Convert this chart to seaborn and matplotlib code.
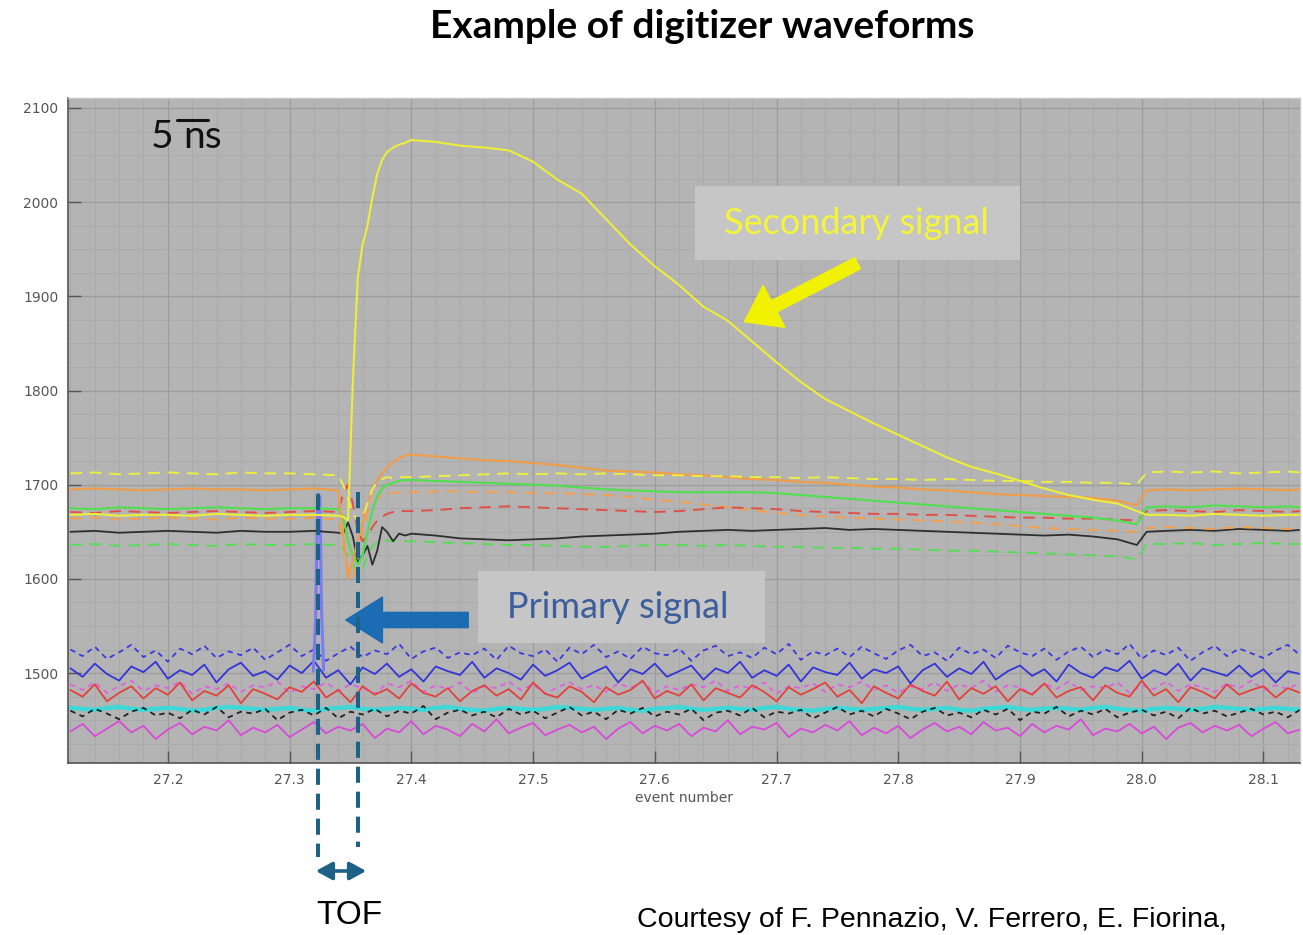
import numpy as np
import pandas as pd
import matplotlib
matplotlib.use("Agg")
import matplotlib.pyplot as plt
import seaborn as sns
from matplotlib.lines import Line2D
from matplotlib.patches import Rectangle, FancyArrowPatch
from matplotlib.ticker import MultipleLocator

# ---------------- data ----------------
# sample times of the baseline/secondary-signal channels (event number)
x_upper = [27.12, 27.14, 27.16, 27.18, 27.20, 27.22, 27.24, 27.26, 27.28, 27.30, 27.32, 27.34,
           27.344, 27.348, 27.352, 27.356, 27.360, 27.364, 27.368, 27.372, 27.376, 27.380, 27.385, 27.390, 27.395,
           27.40, 27.42, 27.44, 27.46, 27.48, 27.50, 27.52, 27.54, 27.56, 27.58, 27.60, 27.62, 27.64, 27.66, 27.68,
           27.70, 27.72, 27.74, 27.76, 27.78, 27.80, 27.82, 27.84, 27.86, 27.88, 27.90, 27.92, 27.94, 27.96, 27.98,
           27.996, 28.004,
           28.02, 28.04, 28.06, 28.08, 28.10, 28.12, 28.13]

yellow_solid = [1668, 1669, 1667, 1668, 1668, 1667, 1669, 1668, 1667, 1668, 1668, 1667,
                1666, 1662, 1810, 1920, 1955, 1975, 2005, 2030, 2045, 2053, 2058, 2061, 2063,
                2066, 2064, 2060, 2058, 2055, 2043, 2024, 2009, 1982, 1955, 1932, 1912, 1889, 1874, 1852,
                1830, 1809, 1791, 1778, 1765, 1753, 1741, 1729, 1719, 1712, 1704, 1696, 1689, 1684, 1680,
                1672, 1668,
                1668, 1667, 1669, 1668, 1667, 1668, 1668]
yellow_dashed = [1712, 1713, 1711, 1712, 1713, 1712, 1711, 1713, 1712, 1712, 1711, 1710,
                 1700, 1685, 1670, 1660, 1665, 1680, 1695, 1703, 1706, 1708, 1707, 1708, 1708,
                 1708, 1709, 1710, 1711, 1712, 1711, 1712, 1711, 1712, 1711, 1710, 1710, 1709, 1709, 1708,
                 1708, 1707, 1708, 1707, 1706, 1706, 1705, 1706, 1705, 1704, 1704, 1703, 1703, 1702, 1702,
                 1700, 1713,
                 1714, 1713, 1714, 1712, 1713, 1714, 1713]
orange_solid = [1695, 1696, 1695, 1694, 1695, 1696, 1695, 1695, 1694, 1695, 1696, 1694,
                1650, 1600, 1620, 1640, 1660, 1680, 1695, 1705, 1712, 1718, 1724, 1728, 1731,
                1732, 1730, 1728, 1726, 1725, 1723, 1721, 1718, 1715, 1714, 1713, 1711, 1710, 1708, 1706,
                1705, 1703, 1702, 1700, 1698, 1697, 1695, 1694, 1692, 1690, 1689, 1688, 1687, 1686, 1683,
                1678, 1694,
                1695, 1694, 1695, 1696, 1695, 1694, 1695]
green_solid = [1675, 1674, 1676, 1675, 1674, 1675, 1676, 1675, 1674, 1675, 1675, 1674,
               1665, 1640, 1625, 1615, 1625, 1650, 1672, 1688, 1696, 1700, 1702, 1704, 1705,
               1705, 1704, 1703, 1702, 1701, 1700, 1699, 1697, 1695, 1694, 1693, 1692, 1692, 1692, 1692,
               1691, 1689, 1687, 1685, 1683, 1681, 1679, 1677, 1675, 1673, 1671, 1669, 1667, 1665, 1662,
               1658, 1676,
               1677, 1676, 1678, 1677, 1676, 1677, 1676]
red_dashed = [1671, 1670, 1672, 1671, 1670, 1671, 1672, 1671, 1670, 1671, 1672, 1671,
              1690, 1700, 1680, 1650, 1640, 1645, 1655, 1662, 1666, 1669, 1671, 1672, 1672,
              1672, 1673, 1675, 1676, 1677, 1676, 1675, 1674, 1673, 1672, 1671, 1672, 1674, 1676, 1675,
              1674, 1672, 1671, 1670, 1669, 1669, 1668, 1668, 1667, 1666, 1665, 1665, 1664, 1664, 1663,
              1662, 1672,
              1673, 1672, 1671, 1673, 1672, 1671, 1672]
orange_dashed = [1664, 1665, 1663, 1664, 1665, 1664, 1663, 1665, 1664, 1664, 1665, 1663,
                 1640, 1610, 1600, 1620, 1650, 1670, 1680, 1686, 1689, 1690, 1691, 1692, 1692,
                 1692, 1693, 1693, 1692, 1692, 1691, 1691, 1690, 1689, 1687, 1684, 1682, 1679, 1676, 1673,
                 1670, 1668, 1666, 1665, 1664, 1663, 1662, 1661, 1660, 1658, 1656, 1654, 1653, 1652, 1651,
                 1650, 1654,
                 1655, 1654, 1653, 1655, 1654, 1653, 1654]
black_solid = [1650, 1651, 1649, 1650, 1651, 1650, 1649, 1651, 1650, 1650, 1651, 1649,
               1648, 1660, 1645, 1618, 1625, 1635, 1615, 1630, 1655, 1650, 1640, 1648, 1646,
               1648, 1646, 1643, 1642, 1641, 1642, 1643, 1645, 1646, 1647, 1648, 1650, 1651, 1652, 1651,
               1652, 1653, 1654, 1652, 1653, 1652, 1651, 1650, 1649, 1648, 1647, 1646, 1647, 1645, 1642,
               1636, 1650,
               1651, 1652, 1651, 1653, 1652, 1651, 1652]
green_dashed = [1636, 1637, 1635, 1636, 1637, 1636, 1635, 1637, 1636, 1636, 1637, 1636,
                1632, 1625, 1615, 1605, 1610, 1625, 1635, 1639, 1640, 1641, 1640, 1641, 1640,
                1640, 1639, 1638, 1637, 1636, 1636, 1635, 1634, 1634, 1635, 1636, 1636, 1635, 1636, 1635,
                1634, 1634, 1633, 1633, 1632, 1632, 1631, 1630, 1630, 1629, 1628, 1627, 1626, 1625, 1624,
                1621, 1637,
                1637, 1638, 1636, 1637, 1638, 1637, 1637]

# noisy low-level channels, sampled every 0.01 from 27.12
x_start, x_step = 27.12, 0.01
blue_dashed = [1525, 1518, 1528, 1515, 1522, 1530, 1517, 1524, 1512, 1526, 1520, 1529, 1516, 1523, 1519, 1527, 1514,
               1522, 1530, 1518, 1525, 1513, 1521, 1528, 1517, 1524, 1520, 1531, 1515, 1523, 1527, 1516, 1522, 1519,
               1526, 1514, 1529, 1521, 1518, 1525, 1512, 1527, 1520, 1530, 1517, 1523, 1515, 1528, 1521, 1519, 1526,
               1513, 1524, 1529, 1518, 1522, 1516, 1527, 1520, 1531, 1514, 1523, 1519, 1526, 1517, 1528, 1521, 1515,
               1524, 1530, 1518, 1522, 1513, 1527, 1520, 1525, 1516, 1529, 1522, 1518, 1526, 1514, 1523, 1528, 1517,
               1525, 1520, 1531, 1515, 1524, 1519, 1527, 1513, 1522, 1529, 1518, 1526, 1521, 1516, 1524, 1530, 1519]
blue_solid = [1505, 1496, 1510, 1499, 1492, 1507, 1501, 1512, 1494, 1503, 1498, 1509, 1490, 1504, 1511, 1497, 1502,
              1493, 1508, 1500, 1513, 1495, 1503, 1488, 1506, 1499, 1510, 1496, 1504, 1491, 1507, 1502, 1498, 1512,
              1495, 1505, 1500, 1493, 1509, 1497, 1503, 1511, 1494, 1501, 1507, 1490, 1504, 1499, 1510, 1496, 1502,
              1508, 1493, 1505, 1500, 1512, 1495, 1503, 1497, 1509, 1491, 1506, 1501, 1498, 1511, 1494, 1504, 1500,
              1507, 1489, 1503, 1510, 1496, 1505, 1499, 1512, 1493, 1502, 1508, 1497, 1504, 1491, 1509, 1500, 1495,
              1506, 1502, 1513, 1494, 1503, 1498, 1510, 1492, 1505, 1501, 1497, 1508, 1496, 1504, 1490, 1502, 1499]
red_solid = [1482, 1475, 1488, 1470, 1479, 1486, 1473, 1484, 1477, 1490, 1471, 1481, 1476, 1487, 1468, 1483, 1478,
             1472, 1485, 1480, 1491, 1474, 1482, 1469, 1486, 1477, 1483, 1473, 1489, 1479, 1475, 1484, 1470, 1481,
             1487, 1476, 1483, 1472, 1490, 1478, 1474, 1486, 1480, 1469, 1485, 1477, 1482, 1492, 1473, 1481, 1476,
             1488, 1471, 1484, 1479, 1474, 1487, 1480, 1470, 1485, 1477, 1483, 1490, 1475, 1482, 1468, 1486, 1479,
             1473, 1488, 1481, 1476, 1491, 1472, 1484, 1478, 1486, 1470, 1483, 1477, 1489, 1474, 1481, 1485, 1471,
             1487, 1479, 1475, 1492, 1476, 1483, 1469, 1485, 1480, 1473, 1488, 1477, 1482, 1486, 1474, 1484, 1479]
magenta_dashed = [1488, 1482, 1490, 1479, 1486, 1492, 1481, 1487, 1484, 1491, 1478, 1486, 1483, 1489, 1480, 1487, 1485,
                  1491, 1479, 1486, 1483, 1490, 1481, 1488, 1484, 1478, 1489, 1485, 1492, 1480, 1487, 1483, 1490, 1479,
                  1486, 1484, 1491, 1482, 1488, 1478, 1485, 1490, 1483, 1487, 1480, 1489, 1484, 1491, 1479, 1486, 1482,
                  1488, 1485, 1492, 1481, 1487, 1483, 1490, 1478, 1486, 1484, 1489, 1480, 1488, 1485, 1491, 1482, 1487,
                  1479, 1486, 1483, 1490, 1481, 1488, 1484, 1492, 1480, 1487, 1485, 1478, 1489, 1483, 1491, 1482, 1486,
                  1484, 1490, 1479, 1487, 1483, 1491, 1481, 1488, 1485, 1480, 1489, 1484, 1492, 1482, 1487, 1483, 1490]
cyan_solid = [1463, 1462, 1461, 1463, 1464, 1462, 1461, 1462, 1463, 1462, 1460, 1461, 1463, 1464, 1463, 1462, 1461,
              1462, 1463, 1461, 1460, 1462, 1463, 1464, 1462, 1461, 1462, 1463, 1462, 1461, 1463, 1464, 1462, 1461,
              1460, 1462, 1463, 1462, 1461, 1462, 1464, 1463, 1462, 1461, 1462, 1463, 1461, 1460, 1462, 1463, 1464,
              1462, 1461, 1462, 1463, 1462, 1461, 1463, 1464, 1462, 1461, 1460, 1462, 1463, 1462, 1461, 1462, 1463,
              1464, 1462, 1461, 1462, 1463, 1461, 1460, 1462, 1463, 1464, 1462, 1461, 1462, 1463, 1462, 1461, 1463,
              1464, 1462, 1461, 1460, 1462, 1463, 1462, 1461, 1462, 1464, 1463, 1462, 1461, 1462, 1463, 1462, 1461]
black_dashed = [1460, 1454, 1462, 1457, 1451, 1459, 1463, 1455, 1458, 1452, 1461, 1456, 1464, 1453, 1459, 1457, 1462,
                1450, 1458, 1461, 1455, 1463, 1452, 1459, 1456, 1462, 1454, 1460, 1457, 1465, 1451, 1458, 1461, 1455,
                1459, 1453, 1462, 1456, 1460, 1452, 1458, 1464, 1455, 1459, 1451, 1461, 1457, 1463, 1454, 1459, 1456,
                1462, 1450, 1458, 1460, 1455, 1463, 1453, 1459, 1457, 1461, 1452, 1458, 1464, 1456, 1460, 1454, 1462,
                1457, 1451, 1459, 1463, 1455, 1458, 1453, 1461, 1456, 1462, 1450, 1459, 1457, 1464, 1454, 1460, 1456,
                1462, 1453, 1458, 1461, 1455, 1459, 1452, 1463, 1457, 1460, 1454, 1458, 1462, 1456, 1459, 1453, 1461]
magenta_solid = [1438, 1446, 1433, 1441, 1449, 1437, 1444, 1430, 1440, 1447, 1435, 1443, 1439, 1450, 1434, 1442, 1437,
                 1445, 1432, 1440, 1448, 1436, 1443, 1439, 1446, 1431, 1441, 1437, 1449, 1435, 1444, 1440, 1433, 1446,
                 1438, 1451, 1436, 1442, 1447, 1434, 1440, 1445, 1437, 1443, 1430, 1441, 1448, 1436, 1444, 1439, 1446,
                 1433, 1442, 1438, 1450, 1435, 1443, 1440, 1447, 1432, 1441, 1437, 1445, 1439, 1449, 1434, 1442, 1436,
                 1444, 1431, 1440, 1447, 1438, 1443, 1435, 1448, 1439, 1442, 1433, 1446, 1437, 1444, 1440, 1451, 1434,
                 1441, 1438, 1446, 1436, 1443, 1430, 1442, 1447, 1437, 1444, 1439, 1445, 1433, 1441, 1448, 1436, 1440]

# primary (prompt) signal spike
spike_x = [27.3195, 27.3215, 27.3228, 27.3238, 27.3250, 27.3262, 27.3280]
spike_y = [1502, 1560, 1660, 1690, 1686, 1570, 1503]

x_ticks = [27.2, 27.3, 27.4, 27.5, 27.6, 27.7, 27.8, 27.9, 28.0, 28.1]
y_ticks = [1500, 1600, 1700, 1800, 1900, 2000, 2100]

# ---------------- style ----------------
W, H = 1303, 935
sns.set_theme(style="darkgrid", rc={
    "axes.facecolor": "#b4b4b4",
    "figure.facecolor": "white",
    "grid.color": "#a2a2a2",
    "text.color": "black",
})
plt.rcParams["font.family"] = ["DejaVu Sans"]

fig = plt.figure(figsize=(W / 100, H / 100), dpi=100)
ax = fig.add_axes([68 / W, 1 - 763 / H, (1300 - 68) / W, (763 - 98) / H])


def F(px, py):
    return (px / W, 1 - py / H)


# ---------------- traces ----------------
x_noise = np.round(x_start + x_step * np.arange(len(blue_dashed)), 3)

noise_traces = [
    (magenta_solid, "#d84ad8", "-", 1.3),
    (cyan_solid, "#3fd8d8", "-", 3.2),
    (black_dashed, "#222222", (0, (3, 2.5)), 1.3),
    (magenta_dashed, "#e060e0", (0, (3, 2.5)), 1.3),
    (red_solid, "#e2423c", "-", 1.3),
    (blue_solid, "#3434d8", "-", 1.3),
    (blue_dashed, "#3a3ae0", (0, (3, 2.5)), 1.3),
]
for ys, col, ls, lw in noise_traces:
    n = min(len(ys), len(x_noise))
    sns.lineplot(x=x_noise[:n], y=ys[:n], ax=ax, color=col, linestyle=ls, linewidth=lw,
                 estimator=None, sort=False, legend=False)

sns.lineplot(x=spike_x, y=spike_y, ax=ax, color="#7c7cf2", linewidth=2.2,
             estimator=None, sort=False, legend=False)

upper_traces = [
    (green_dashed, "#58dc58", (0, (6, 4)), 1.4),
    (black_solid, "#2e2e2e", "-", 1.3),
    (orange_dashed, "#f0a050", (0, (6, 4)), 1.4),
    (red_dashed, "#e05048", (0, (6, 4)), 1.4),
    (green_solid, "#4ee04e", "-", 1.5),
    (orange_solid, "#f29c48", "-", 1.5),
    (yellow_dashed, "#eeee40", (0, (6, 4)), 1.4),
    (yellow_solid, "#eded3a", "-", 1.5),
]
for ys, col, ls, lw in upper_traces:
    sns.lineplot(x=x_upper, y=ys, ax=ax, color=col, linestyle=ls, linewidth=lw,
                 estimator=None, sort=False, legend=False)

# ---------------- axes ----------------
ax.set_xlim(27.118, 28.130)
ax.set_ylim(1404.5, 2110.6)
ax.set_xticks(x_ticks)
ax.set_xticklabels([f"{v:.1f}" for v in x_ticks])
ax.set_yticks(y_ticks)
ax.set_yticklabels([str(v) for v in y_ticks])
ax.xaxis.set_minor_locator(MultipleLocator(0.02))
ax.yaxis.set_minor_locator(MultipleLocator(25))
ax.grid(which="major", color="#9c9c9c", linewidth=0.9)
ax.grid(which="minor", color="#a9a9a9", linewidth=0.6)
ax.tick_params(which="major", direction="in", length=9, width=1.0, color="#555555",
               labelsize=10, labelcolor="#555555", pad=7, left=True, bottom=True)
ax.tick_params(which="minor", length=0)
ax.set_xlabel("event number", fontsize=10, color="#555555", labelpad=3)
ax.set_ylabel("")
for side in ["left", "bottom"]:
    ax.spines[side].set_visible(True)
    ax.spines[side].set_color("#555555")
    ax.spines[side].set_linewidth(1.2)
for side in ["top", "right"]:
    ax.spines[side].set_visible(True)
    ax.spines[side].set_color("#c8c8c8")
    ax.spines[side].set_linewidth(1.0)

# ---------------- annotations ----------------
fig.text(0.5 * (427 + 977) / W, F(0, 26)[1], "Example of digitizer waveforms",
         ha="center", va="center", fontsize=28, fontweight="bold", color="black",
         family=["Lato", "DejaVu Sans"])

# scale bar label
fig.text(*F(151, 137), "5", ha="left", va="center", fontsize=28, family=["Lato", "DejaVu Sans"], color="#111111")
fig.text(*F(183, 137), "ns", ha="left", va="center", fontsize=28, family=["Lato", "DejaVu Sans"], color="#111111")
fig.add_artist(Line2D([177 / W, 208 / W], [F(0, 120)[1]] * 2, transform=fig.transFigure,
                      color="#111111", linewidth=2.2))

# secondary signal box + arrow
fig.add_artist(Rectangle(F(695, 260), (1020 - 695) / W, (260 - 186) / H, transform=fig.transFigure,
                         facecolor="#c6c6c6", edgecolor="none", zorder=3))
fig.text(*F(856, 224), "Secondary signal", ha="center", va="center", fontsize=26,
         color="#f4f43a", family=["Lato", "DejaVu Sans"], zorder=4)
fig.add_artist(FancyArrowPatch(F(860, 262), F(742, 323), transform=fig.transFigure,
                               arrowstyle="simple,head_length=1.2,head_width=1.7,tail_width=0.45",
                               mutation_scale=20, color="#f2f200", zorder=4))

# primary signal box + arrow
fig.add_artist(Rectangle(F(478, 643), (765 - 478) / W, (643 - 571) / H, transform=fig.transFigure,
                         facecolor="#c6c6c6", edgecolor="none", zorder=3))
fig.text(*F(618, 607), "Primary signal", ha="center", va="center", fontsize=26,
         color="#3d5e9c", family=["Lato", "DejaVu Sans"], zorder=4)
fig.add_artist(FancyArrowPatch(F(471, 620), F(343, 620), transform=fig.transFigure,
                               arrowstyle="simple,head_length=1.2,head_width=1.5,tail_width=0.5",
                               mutation_scale=22, color="#1b6cb2", zorder=4))

# TOF markers
tof_col = "#1d6186"
fig.add_artist(Line2D([318 / W] * 2, [F(0, 494)[1], F(0, 857)[1]], transform=fig.transFigure,
                      color=tof_col, linewidth=2.9, linestyle=(0, (4, 2.2)), zorder=5))
fig.add_artist(Line2D([358 / W] * 2, [F(0, 492)[1], F(0, 847)[1]], transform=fig.transFigure,
                      color=tof_col, linewidth=2.9, linestyle=(0, (4, 2.2)), zorder=5))
fig.add_artist(FancyArrowPatch(F(313, 871), F(369, 871), transform=fig.transFigure,
                               arrowstyle="<|-|>,head_length=0.55,head_width=0.3",
                               mutation_scale=18, linewidth=2.6, color=tof_col, zorder=5))
fig.text(*F(349, 916), "TOF", ha="center", va="center", fontsize=24,
         family=["Liberation Sans", "DejaVu Sans"], color="black")
fig.text(637 / W, F(0, 927)[1], "Courtesy of F. Pennazio, V. Ferrero, E. Fiorina,",
         ha="left", va="baseline", fontsize=20.5, family=["Liberation Sans", "DejaVu Sans"], color="black")

fig.savefig("out.png", dpi=100)
